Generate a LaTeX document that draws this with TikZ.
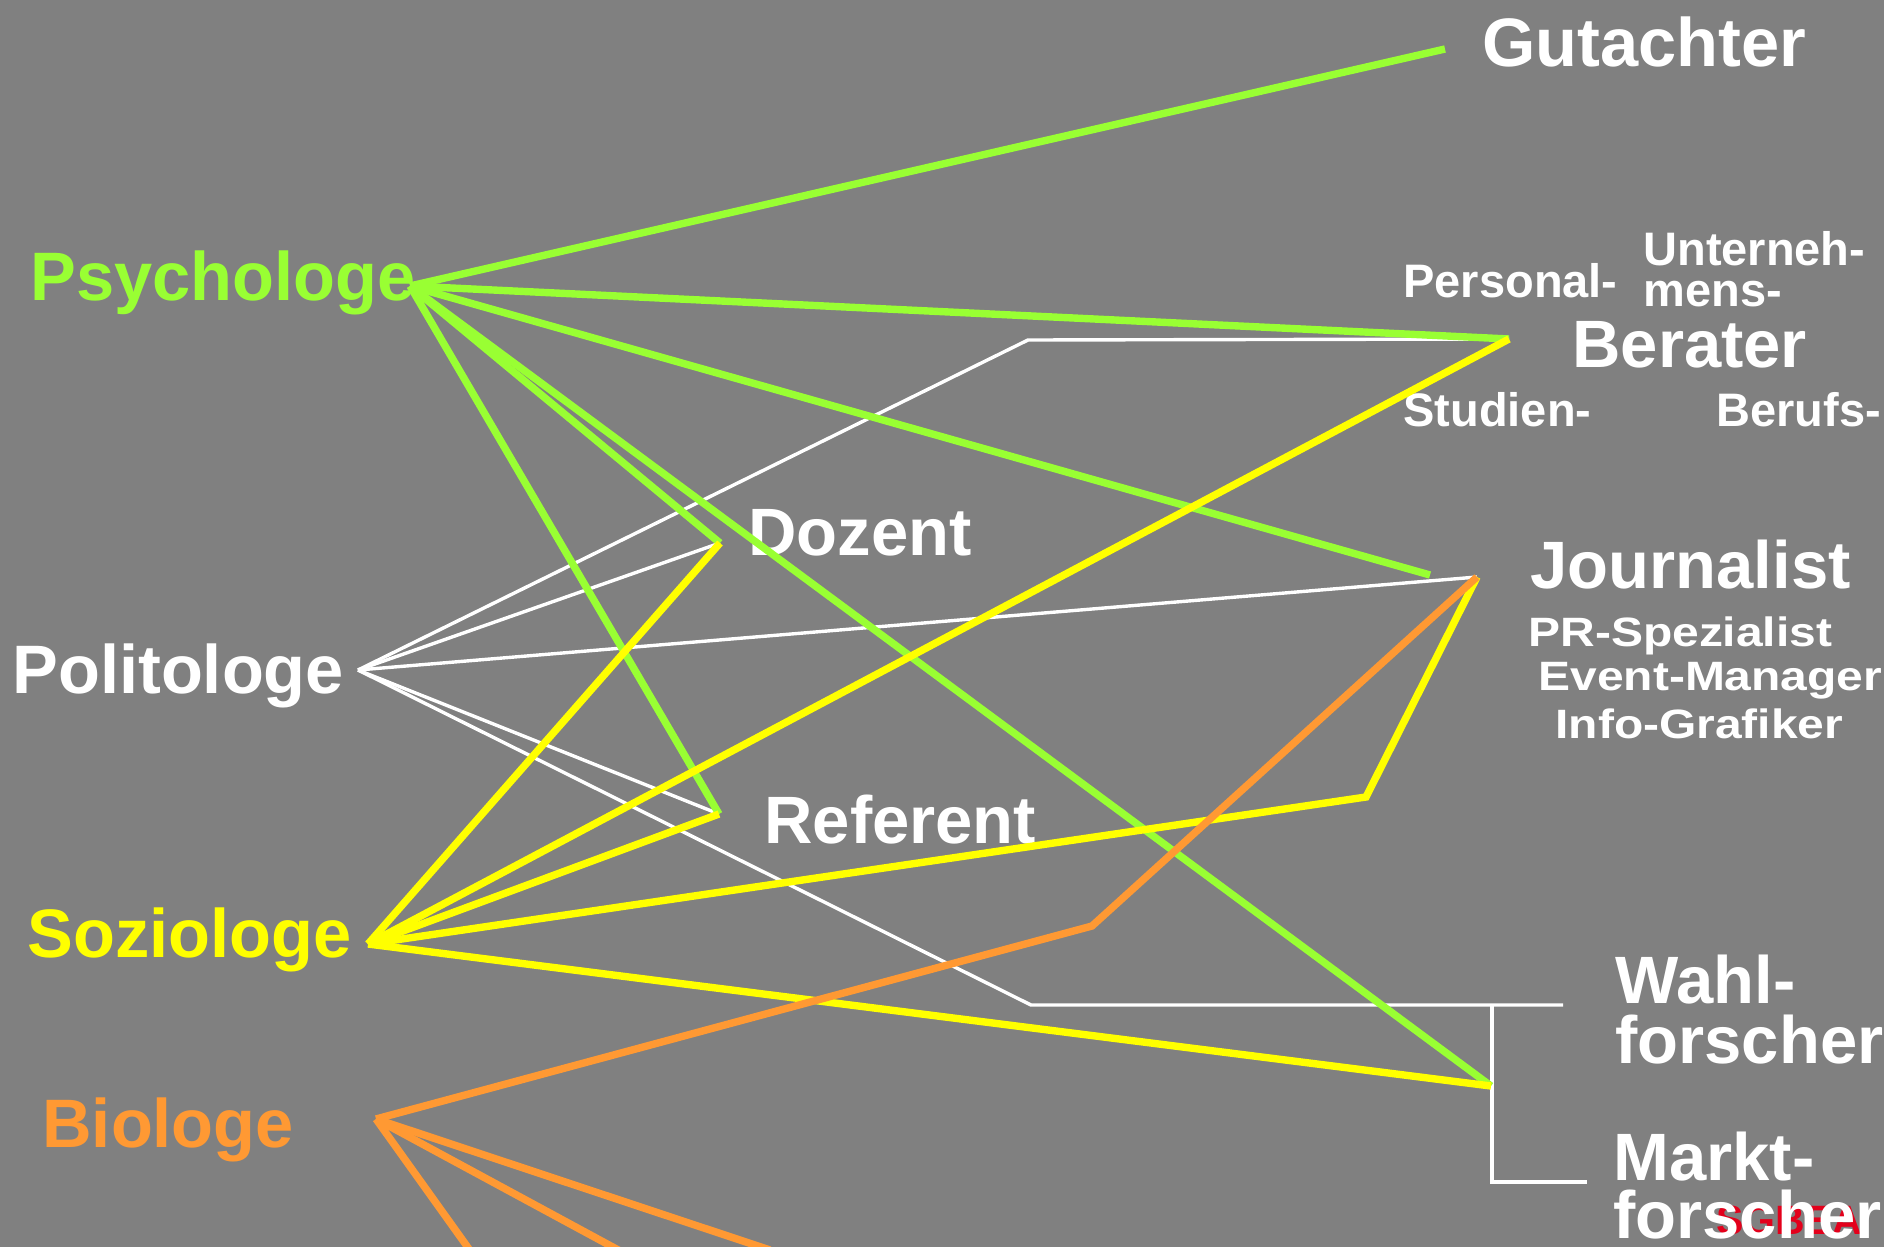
\documentclass[tikz,border=0pt]{standalone}
\usepackage{fontspec}
\setmainfont{Liberation Sans}
\newfontfamily\widefont[FakeStretch=1.17]{Liberation Sans}
\definecolor{bg}{RGB}{128,128,128}
\definecolor{psy}{RGB}{153,255,51}
\definecolor{soz}{RGB}{255,255,0}
\definecolor{bio}{RGB}{255,153,51}
\definecolor{sgred}{RGB}{227,0,27}
\begin{document}
\begin{tikzpicture}[x=0.5pt,y=-0.5pt,
  lbl/.style={anchor=base west, inner sep=0pt, font=\bfseries\fontsize{34.3pt}{42pt}\selectfont, text=white},
  mid/.style={anchor=base west, inner sep=0pt, font=\bfseries\fontsize{33.5pt}{40pt}\selectfont, text=white},
  sub/.style={anchor=base west, inner sep=0pt, font=\bfseries\fontsize{23.5pt}{28pt}\selectfont, text=white},
  jsub/.style={anchor=base west, inner sep=0pt, font=\widefont\bfseries\fontsize{20.5pt}{24pt}\selectfont, text=white},
  wline/.style={draw=white, line width=1.7pt, line join=miter},
  gline/.style={draw=psy, line width=3.7pt},
  yline/.style={draw=soz, line width=3.7pt, line join=miter},
  oline/.style={draw=bio, line width=3.7pt, line join=miter}]
\clip (0,0) rectangle (1884,1247);
\fill[bg] (0,0) rectangle (1884,1247);

% junctions
\coordinate (psyJ) at (410,286);
\coordinate (polJ) at (358,670);
\coordinate (sozJ) at (368,944);
\coordinate (bioJ) at (376,1119);
\coordinate (gutE) at (1445,49);
\coordinate (berJ) at (1509,339);
\coordinate (jouJ) at (1477,577);
\coordinate (jouG) at (1430,575);
\coordinate (dozJ) at (720,543);
\coordinate (refJ) at (719,814);
\coordinate (wmJ) at (1491,1086);
\coordinate (polBer) at (1028,340);
\coordinate (polWahl) at (1031,1005);
\coordinate (wahlE) at (1563,1005);
\coordinate (barTop) at (1492,1005);
\coordinate (barBot) at (1492,1182);
\coordinate (marktE) at (1587,1182);
\coordinate (sozMid) at (1366,797);
\coordinate (bioMid) at (1092,926);
\coordinate (bioA) at (474,1256);
\coordinate (bioB) at (622,1252);
\coordinate (bioC) at (770,1250);

% red text behind
\node[anchor=base west, inner sep=0pt, font=\bfseries\fontsize{20.5pt}{23pt}\selectfont, text=sgred] (sgbe) at (1716,1234) {SGBEA};

% labels
\node[lbl, text=psy] (psy) at (30,300) {Psychologe};
\node[lbl] (gut) at (1482,67) {Gutachter};
\node[lbl] (pol) at (12,693) {Politologe};
\node[lbl, text=soz] (soz) at (27,957) {Soziologe};
\node[lbl, text=bio] (bio) at (42,1147) {Biologe};
\node[mid] (doz) at (748,555) {Dozent};
\node[mid] (ref) at (764,843) {Referent};
\node[mid] (ber) at (1572,367) {Berater};
\node[sub] (pers) at (1403,297) {Personal-};
\node[sub] (unt) at (1643,265) {Unterneh-};
\node[sub] (mens) at (1643,306) {mens-};
\node[sub] (stud) at (1403,426) {Studien-};
\node[sub] (beruf) at (1716,426) {Berufs-};
\node[mid] (jou) at (1530,588) {Journalist};
\node[jsub] (pr) at (1528,646) {PR-Spezialist};
\node[jsub] (ev) at (1538,690) {Event-Manager};
\node[jsub] (info) at (1555,738) {Info-Grafiker};
\node[mid] (wahl) at (1615,1003) {Wahl-};
\node[mid] (wahl2) at (1615,1063) {forscher};
\node[mid] (markt) at (1613,1180) {Markt-};
\node[mid] (markt2) at (1613,1238) {forscher};

% white (Politologe)
\draw[wline] (polJ) -- (polBer) -- (berJ);
\draw[wline] (polJ) -- (dozJ);
\draw[wline] (polJ) -- (jouJ);
\draw[wline] (polJ) -- (refJ);
\draw[wline] (polJ) -- (polWahl) -- (wahlE);
\draw[wline] (barTop) -- (barBot) -- (marktE);

% green (Psychologe)
\draw[gline] (psyJ) -- (gutE);
\draw[gline] (psyJ) -- (berJ);
\draw[gline] (psyJ) -- (jouG);
\draw[gline] (psyJ) -- (dozJ);
\draw[gline] (psyJ) -- (refJ);
\draw[gline] (psyJ) -- (wmJ);

% yellow (Soziologe)
\draw[yline] (sozJ) -- (dozJ);
\draw[yline] (sozJ) -- (berJ);
\draw[yline] (sozJ) -- (refJ);
\draw[yline] (sozJ) -- (sozMid) -- (jouJ);
\draw[yline] (sozJ) -- (wmJ);

% orange (Biologe)
\draw[oline] (bioJ) -- (bioMid) -- (jouJ);
\draw[oline] (bioJ) -- (bioA);
\draw[oline] (bioJ) -- (bioB);
\draw[oline] (bioJ) -- (bioC);
\end{tikzpicture}
\end{document}
